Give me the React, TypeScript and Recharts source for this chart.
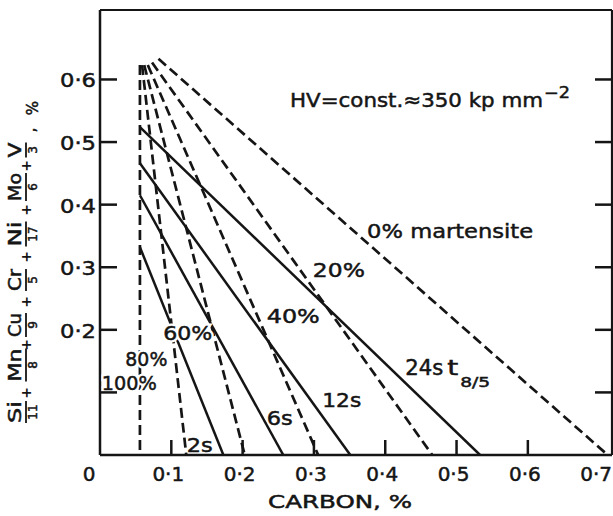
import React from 'react';
import { LineChart, Line, XAxis, YAxis, ReferenceDot } from 'recharts';

// carbon (%) vs. alloy sum (%) -- end points of each line
const martensite100 = [{ x: 0.056, y: 0.623 }, { x: 0.056, y: 0 }];
const martensite80 = [{ x: 0.059, y: 0.623 }, { x: 0.121, y: 0 }];
const martensite60 = [{ x: 0.062, y: 0.623 }, { x: 0.203, y: 0 }];
const martensite40 = [{ x: 0.067, y: 0.623 }, { x: 0.306, y: 0 }];
const martensite20 = [{ x: 0.073, y: 0.627 }, { x: 0.466, y: 0 }];
const martensite0 = [{ x: 0.082, y: 0.633 }, { x: 0.712, y: 0 }];

const t85_2s = [{ x: 0.056, y: 0.332 }, { x: 0.173, y: 0 }];
const t85_6s = [{ x: 0.056, y: 0.415 }, { x: 0.257, y: 0 }];
const t85_12s = [{ x: 0.056, y: 0.466 }, { x: 0.351, y: 0 }];
const t85_24s = [{ x: 0.056, y: 0.524 }, { x: 0.533, y: 0 }];

const xTicks = [0, 0.1, 0.2, 0.3, 0.4, 0.5, 0.6, 0.7];
const yTicks = [0.1, 0.2, 0.3, 0.4, 0.5, 0.6];
const frameTicks = [0.1, 0.2, 0.3, 0.4, 0.5, 0.6];

const labelText = ['0% martensite', '20%', '40%', '60%', '80%', '100%', '2s', '6s', '12s'];
const labelX = [0.491, 0.335, 0.271, 0.123, 0.065, 0.041, 0.14, 0.252, 0.339];
const labelY = [0.358, 0.296, 0.222, 0.195, 0.153, 0.115, 0.016, 0.059, 0.088];

const INK = '#151515';
const FONT = '"DejaVu Sans", sans-serif';
// a thin outline to get the heavier lettering of the original
const BOLD = { stroke: INK, strokeWidth: 0.5 };

const labelWidth: Record<string, number> = {
  '0% martensite': 166,
  '20%': 52,
  '40%': 53,
  '60%': 49,
  '80%': 42,
  '100%': 55,
  '2s': 26,
  '6s': 26,
  '12s': 39,
};
const haloed = ['60%', '80%', '100%'];

const fmt = (v: number) => (v === 0 ? '0' : '0·' + Math.round(v * 10));

const leftTick = (p: any) => {
  const { x, y, payload } = p;
  return (
    <g>
      <line x1={x} y1={y} x2={x + 17} y2={y} stroke={INK} strokeWidth={2.5} />
      {payload.value !== 0.1 && (
        <text x={x - 4} y={y + 1} textAnchor="end" dominantBaseline="central" fontSize={20}
          textLength={36} lengthAdjust="spacingAndGlyphs" fill={INK} fontFamily={FONT} {...BOLD}>
          {fmt(payload.value)}
        </text>
      )}
    </g>
  );
};

const bottomTick = (p: any) => {
  const { x, y, payload } = p;
  const v = payload.value;
  const edge = v === 0 || v === 0.7;
  return (
    <g>
      {!edge && <line x1={x} y1={y} x2={x} y2={y - 15} stroke={INK} strokeWidth={2.5} />}
      <text x={v === 0 ? x - 11 : x - 3} y={y + 19} textAnchor="middle" dominantBaseline="central"
        fontSize={20} fill={INK} fontFamily={FONT} {...BOLD}>
        {fmt(v)}
      </text>
    </g>
  );
};

const topTick = (p: any) => (
  <line x1={p.x} y1={p.y} x2={p.x} y2={p.y + 15} stroke={INK} strokeWidth={2.5} />
);

const rightTick = (p: any) => (
  <line x1={p.x} y1={p.y} x2={p.x - 17} y2={p.y} stroke={INK} strokeWidth={2.5} />
);

const XTitle = () => (
  <text x={340} y={508} textAnchor="middle" fontSize={18} textLength={144}
    lengthAdjust="spacingAndGlyphs" fill={INK} fontFamily={FONT} {...BOLD}>
    CARBON, %
  </text>
);

// Si/11 + Mn/8 + Cu/9 + Cr/5 + Ni/17 + Mo/6 + V/3, %  (rotated, reading upwards)
const YTitle = () => {
  const fracs = [
    { num: 'Si', den: '11', at: 412, w: 22 },
    { num: 'Mn', den: '8', at: 365, w: 33 },
    { num: 'Cu', den: '9', at: 325, w: 24 },
    { num: 'Cr', den: '5', at: 280, w: 22 },
    { num: 'Ni', den: '17', at: 234, w: 25 },
    { num: 'Mo', den: '6', at: 187, w: 28 },
    { num: 'V', den: '3', at: 150, w: 15 },
  ];
  const plus = [393, 345, 302, 257, 210, 166];
  return (
    <g transform="rotate(-90)" fill={INK} fontFamily={FONT}>
      {fracs.map((f) => (
        <g key={f.num}>
          <text x={-f.at} y={21} textAnchor="middle" fontSize={17} textLength={f.w}
            lengthAdjust="spacingAndGlyphs" {...BOLD}>{f.num}</text>
          <line x1={-f.at - f.w / 2} x2={-f.at + f.w / 2} y1={26} y2={26} stroke={INK} strokeWidth={1.8} />
          <text x={-f.at} y={37} textAnchor="middle" fontSize={12} {...BOLD}>{f.den}</text>
        </g>
      ))}
      {plus.map((p) => (
        <text key={p} x={-p} y={26} textAnchor="middle" dominantBaseline="central" fontSize={14}
          fontWeight="bold">+</text>
      ))}
      <text x={-130} y={35} textAnchor="middle" fontSize={16} {...BOLD}>,</text>
      <text x={-108} y={38} textAnchor="middle" fontSize={15} {...BOLD}>%</text>
    </g>
  );
};

const CurveLabel = (p: any) => {
  const text: string = p.text;
  const halo = haloed.includes(text);
  return (
    <g fontFamily={FONT} fontSize={20}>
      {halo && (
        <text x={p.cx} y={p.cy} textAnchor="middle" dominantBaseline="central"
          textLength={labelWidth[text]} lengthAdjust="spacingAndGlyphs" fill="#fff" stroke="#fff"
          strokeWidth={5}>
          {text}
        </text>
      )}
      <text x={p.cx} y={p.cy} textAnchor="middle" dominantBaseline="central"
        textLength={labelWidth[text]} lengthAdjust="spacingAndGlyphs" fill={INK} {...BOLD}>
        {text}
      </text>
    </g>
  );
};

const CoolingLabel = (p: any) => (
  <g fill={INK} fontFamily={FONT} {...BOLD}>
    <text x={p.cx} y={p.cy} fontSize={21} textLength={38} lengthAdjust="spacingAndGlyphs">24s</text>
    <text x={p.cx + 42} y={p.cy} fontSize={21} textLength={11} lengthAdjust="spacingAndGlyphs">t</text>
    <text x={p.cx + 55} y={p.cy + 12} fontSize={14} textLength={30} lengthAdjust="spacingAndGlyphs">8/5</text>
  </g>
);

const HardnessLabel = (p: any) => (
  <g fill={INK} fontFamily={FONT} {...BOLD}>
    <text x={p.cx} y={p.cy} fontSize={20} textLength={253} lengthAdjust="spacingAndGlyphs">
      HV=const.≈350 kp mm
    </text>
    <text x={p.cx + 254} y={p.cy - 9} fontSize={15} textLength={26} lengthAdjust="spacingAndGlyphs">−2</text>
  </g>
);

const dashed = [martensite100, martensite80, martensite60, martensite40, martensite20, martensite0];
const solid = [t85_2s, t85_6s, t85_12s, t85_24s];

export default function App() {
  return (
    <div style={{ position: 'absolute', left: 0, top: 0, background: '#fff' }}>
      <LineChart width={613} height={516} margin={{ top: 9, right: 0, bottom: 0, left: 0 }}>
        <XAxis dataKey="x" type="number" domain={[0, 0.718]} ticks={xTicks} interval={0}
          allowDataOverflow height={61} tickSize={0} tickMargin={0} tickLine={false}
          axisLine={{ stroke: INK, strokeWidth: 2.5 }} tick={bottomTick} label={<XTitle />} />
        <XAxis xAxisId="top" orientation="top" type="number" domain={[0, 0.718]} ticks={frameTicks}
          interval={0} allowDataOverflow height={1} tickSize={0} tickMargin={0} tickLine={false}
          axisLine={{ stroke: INK, strokeWidth: 2.2 }} tick={topTick} />
        <YAxis dataKey="y" type="number" domain={[0, 0.711]} ticks={yTicks} interval={0}
          allowDataOverflow width={100} tickSize={0} tickMargin={0} tickLine={false}
          axisLine={{ stroke: INK, strokeWidth: 2.5 }} tick={leftTick} label={<YTitle />} />
        <YAxis yAxisId="right" orientation="right" type="number" domain={[0, 0.711]} ticks={frameTicks}
          interval={0} allowDataOverflow width={1} tickSize={0} tickMargin={0} tickLine={false}
          axisLine={{ stroke: INK, strokeWidth: 2.2 }} tick={rightTick} />
        {dashed.map((d, i) => (
          <Line key={'d' + i} data={d} dataKey="y" type="linear" stroke={INK} strokeWidth={2.7}
            strokeDasharray="10 5" dot={false} activeDot={false} isAnimationActive={false} />
        ))}
        {solid.map((d, i) => (
          <Line key={'s' + i} data={d} dataKey="y" type="linear" stroke={INK} strokeWidth={2.5}
            dot={false} activeDot={false} isAnimationActive={false} />
        ))}
        {labelText.map((t, i) => (
          <ReferenceDot key={t} x={labelX[i]} y={labelY[i]} r={1}
            shape={(p: any) => <CurveLabel {...p} text={t} />} />
        ))}
        <ReferenceDot x={0.428} y={0.128} r={1} shape={(p: any) => <CoolingLabel {...p} />} />
        <ReferenceDot x={0.2665} y={0.556} r={1} shape={(p: any) => <HardnessLabel {...p} />} />
      </LineChart>
    </div>
  );
}
